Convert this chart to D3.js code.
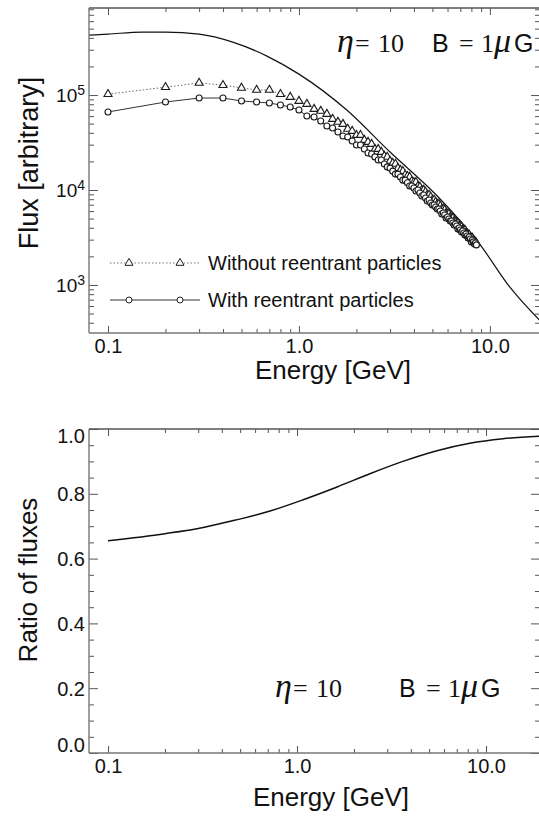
<!DOCTYPE html>
<html>
<head>
<meta charset="utf-8">
<script src="https://cdn.jsdelivr.net/npm/d3@7"></script>
<style>
  body { margin: 0; background: #fff; }
  text { font-family: "Liberation Sans", Arial, sans-serif; fill: #111; }
  .tick line { stroke: #555; }
</style>
</head>
<body>
<div id="chart"></div>
<script>
// size of the page
var width = 539,
    height = 816;

// energy grid of the simulated points [GeV]
var energies = [0.1,0.2,0.3,0.4,0.5,0.6,0.7,0.8,0.9,
  1.0,1.1,1.2,1.3,1.4,1.5,1.6,1.7,1.8,1.9,
  2.0,2.1,2.2,2.3,2.4,2.5,2.6,2.7,2.8,2.9,
  3.0,3.1,3.2,3.3,3.4,3.5,3.6,3.7,3.8,3.9,
  4.0,4.1,4.2,4.3,4.4,4.5,4.6,4.7,4.8,4.9,
  5.0,5.1,5.2,5.3,5.4,5.5,5.6,5.7,5.8,5.9,
  6.0,6.1,6.2,6.3,6.4,6.5,6.6,6.7,6.8,6.9,
  7.0,7.1,7.2,7.3,7.4,7.5,7.6,7.7,7.8,7.9,
  8.0,8.1,8.2,8.3,8.4,8.5];

// flux without reentrant particles (triangles)
var fluxWithout = [1.02e5,1.21e5,1.34e5,1.27e5,1.19e5,1.13e5,1.13e5,1.02e5,9.53e4,
  8.65e4,8.04e4,7.12e4,6.79e4,6.31e4,5.59e4,5.20e4,4.95e4,4.39e4,4.18e4,
  3.79e4,3.79e4,3.36e4,3.20e4,3.05e4,2.70e4,2.70e4,2.51e4,2.28e4,2.23e4,
  2.02e4,1.92e4,1.88e4,1.70e4,1.62e4,1.58e4,1.44e4,1.40e4,1.37e4,1.24e4,
  1.21e4,1.21e4,1.10e4,1.08e4,1.00e4,1.00e4,9.53e3,8.86e3,8.86e3,8.44e3,
  7.85e3,7.85e3,7.48e3,7.12e3,7.12e3,6.79e3,6.31e3,6.31e3,6.16e3,5.72e3,
  5.59e3,5.59e3,5.20e3,5.07e3,5.07e3,4.72e3,4.61e3,4.49e3,4.49e3,4.18e3,
  4.18e3,4.08e3,3.79e3,3.79e3,3.79e3,3.53e3,3.44e3,3.36e3,3.36e3,3.12e3,
  3.12e3,3.12e3,2.91e3,2.91e3,2.84e3,2.77e3];

// flux with reentrant particles (circles)
var fluxWith = [6.63e4,8.44e4,9.30e4,9.30e4,8.65e4,8.44e4,8.24e4,7.85e4,7.48e4,
  6.95e4,6.01e4,5.86e4,5.32e4,4.72e4,4.49e4,4.08e4,3.70e4,3.61e4,3.28e4,
  2.98e4,2.98e4,2.70e4,2.45e4,2.39e4,2.23e4,2.07e4,2.07e4,1.88e4,1.75e4,
  1.70e4,1.58e4,1.47e4,1.47e4,1.37e4,1.27e4,1.27e4,1.19e4,1.10e4,1.10e4,
  1.05e4,9.76e3,1.00e4,9.30e3,8.65e3,8.86e3,8.24e3,7.66e3,7.85e3,7.30e3,
  6.95e3,6.95e3,6.63e3,6.31e3,6.31e3,6.01e3,5.59e3,5.72e3,5.45e3,5.07e3,
  5.20e3,4.95e3,4.72e3,4.72e3,4.49e3,4.28e3,4.39e3,4.18e3,3.89e3,3.98e3,
  3.79e3,3.61e3,3.70e3,3.53e3,3.36e3,3.44e3,3.28e3,3.12e3,3.20e3,3.05e3,
  2.84e3,2.98e3,2.84e3,2.70e3,2.77e3,2.64e3];

// smooth source spectrum (solid line)
var sourceEnergy = [0.08, 0.1, 0.15, 0.2, 0.3, 0.45, 0.68, 1.0, 1.78, 3.0, 5.3, 8.9, 12.7, 18.3];
var sourceFlux   = [4.28e5, 4.38e5, 4.6e5, 4.6e5, 4.38e5, 3.61e5, 2.57e5, 1.66e5, 6.95e4, 2.51e4, 8.65e3, 2.64e3, 953, 420];

// ratio of fluxes (lower panel)
var ratioEnergy = [0.1, 0.2, 0.3, 0.45, 0.72, 1.07, 1.63, 2.43, 3.63, 5.5, 8.2, 12.3, 19.3];
var ratioValue  = [0.655, 0.677, 0.693, 0.716, 0.747, 0.781, 0.821, 0.862, 0.900, 0.933, 0.956, 0.970, 0.978];

// tick labels
var xMajor = [0.1, 1, 10],
    xMajorLabels = ["0.1", "1.0", "10.0"],
    xMinor = [0.2,0.3,0.4,0.5,0.6,0.7,0.8,0.9,2,3,4,5,6,7,8,9];
var fluxMajor = [1e3, 1e4, 1e5],
    fluxExponents = ["3", "4", "5"];
var ratioMajor = [0, 0.2, 0.4, 0.6, 0.8, 1.0],
    ratioLabels = ["0.0", "0.2", "0.4", "0.6", "0.8", "1.0"],
    ratioMinor = [0.05,0.1,0.15,0.25,0.3,0.35,0.45,0.5,0.55,0.65,0.7,0.75,0.85,0.9,0.95];

var legendLabels = ["Without reentrant particles", "With reentrant particles"];

/**** set up svg ****/
var svg = d3.select("#chart").append("svg")
    .attr("width", width)
    .attr("height", height);

var boxTop = {left: 89, right: 540, top: 8, bottom: 333};
var boxBot = {left: 89, right: 540, top: 429, bottom: 753};

var xTop = d3.scaleLog().domain([0.0795, 18.3]).range([boxTop.left, boxTop.right]);
var yTop = d3.scaleLog().domain([312, 8.25e5]).range([boxTop.bottom, boxTop.top]);
var xBot = d3.scaleLog().domain([0.0793, 19.3]).range([boxBot.left, boxBot.right]);
var yBot = d3.scaleLinear().domain([0, 1]).range([boxBot.bottom, boxBot.top]);

svg.append("clipPath").attr("id", "clipTop").append("rect")
    .attr("x", boxTop.left).attr("y", boxTop.top)
    .attr("width", boxTop.right - boxTop.left).attr("height", boxTop.bottom - boxTop.top);
svg.append("clipPath").attr("id", "clipBot").append("rect")
    .attr("x", boxBot.left).attr("y", boxBot.top)
    .attr("width", boxBot.right - boxBot.left).attr("height", boxBot.bottom - boxBot.top);

// draws inward ticks on all four sides of a panel
function drawFrame(box, x, y, yMajor, yMinor, yLabelFn) {
  var g = svg.append("g");

  // bottom, major with labels
  var bx = g.append("g").attr("transform", "translate(0," + box.bottom + ")")
      .call(d3.axisBottom(x).tickValues(xMajor).tickSize(-7).tickPadding(6)
        .tickFormat(function(d, i) { return xMajorLabels[i]; }));
  bx.select(".domain").remove();
  bx.selectAll("text").style("font-size", "20px").attr("fill", "#111");

  var bm = g.append("g").attr("transform", "translate(0," + box.bottom + ")")
      .call(d3.axisBottom(x).tickValues(xMinor).tickSize(-4).tickFormat(""));
  bm.select(".domain").remove();

  // top ticks
  [[xMajor, 7], [xMinor, 4]].forEach(function(p) {
    var t = g.append("g").attr("transform", "translate(0," + box.top + ")")
        .call(d3.axisTop(x).tickValues(p[0]).tickSize(-p[1]).tickFormat(""));
    t.select(".domain").remove();
  });

  // left, major with labels
  var ly = g.append("g").attr("transform", "translate(" + box.left + ",0)")
      .call(d3.axisLeft(y).tickValues(yMajor).tickSize(-9).tickPadding(4).tickFormat(""));
  ly.select(".domain").remove();
  yLabelFn(ly);

  var lm = g.append("g").attr("transform", "translate(" + box.left + ",0)")
      .call(d3.axisLeft(y).tickValues(yMinor).tickSize(-5).tickFormat(""));
  lm.select(".domain").remove();

  // right ticks
  [[yMajor, 9], [yMinor, 5]].forEach(function(p) {
    var t = g.append("g").attr("transform", "translate(" + box.right + ",0)")
        .call(d3.axisRight(y).tickValues(p[0]).tickSize(-p[1]).tickFormat(""));
    t.select(".domain").remove();
  });

  // frame
  g.append("line").attr("x1", box.left).attr("x2", box.left)
      .attr("y1", box.top).attr("y2", box.bottom).attr("stroke", "#777").attr("stroke-width", 1.4);
  g.append("line").attr("x1", box.left).attr("x2", box.right)
      .attr("y1", box.bottom).attr("y2", box.bottom).attr("stroke", "#777").attr("stroke-width", 1.4);
  g.append("line").attr("x1", box.left).attr("x2", box.right)
      .attr("y1", box.top).attr("y2", box.top).attr("stroke", "#555").attr("stroke-width", 1.6);
  g.selectAll(".tick line").attr("stroke", "#555").attr("stroke-width", 1);
}

/**** upper panel ****/
var fluxMinor = yTop.ticks().filter(function(d) {
  return fluxMajor.indexOf(d) < 0;
});

drawFrame(boxTop, xTop, yTop, fluxMajor, fluxMinor, function(ax) {
  ax.selectAll(".tick").each(function(d, i) {
    var t = d3.select(this).select("text")
        .attr("fill", "#111").style("font-size", "19px").attr("dy", "0.34em");
    t.text("");
    t.append("tspan").text("10");
    t.append("tspan").attr("dy", "-0.5em").style("font-size", "14px").text(fluxExponents[i]);
  });
});

var plotTop = svg.append("g").attr("clip-path", "url(#clipTop)");

var line = d3.line()
    .x(function(d) { return xTop(d[0]); })
    .y(function(d) { return yTop(d[1]); });

plotTop.append("path")
    .datum(sourceEnergy.map(function(e, i) { return [e, sourceFlux[i]]; }))
    .attr("fill", "none").attr("stroke", "#111").attr("stroke-width", 1.2)
    .attr("d", line.curve(d3.curveMonotoneX));
line.curve(d3.curveLinear);

var ptsWithout = energies.map(function(e, i) { return [e, fluxWithout[i]]; });
var ptsWith = energies.map(function(e, i) { return [e, fluxWith[i]]; });

var tri = d3.symbol().type(d3.symbolTriangle).size(28);

plotTop.append("path").datum(ptsWithout)
    .attr("fill", "none").attr("stroke", "#666").attr("stroke-width", 1)
    .attr("stroke-dasharray", "1.5,2").attr("d", line);
plotTop.selectAll(".tri").data(ptsWithout).enter().append("path")
    .attr("class", "tri")
    .attr("transform", function(d) { return "translate(" + xTop(d[0]) + "," + yTop(d[1]) + ")"; })
    .attr("d", tri).attr("fill", "#fff").attr("stroke", "#1a1a1a").attr("stroke-width", 1.1);

plotTop.append("path").datum(ptsWith)
    .attr("fill", "none").attr("stroke", "#333").attr("stroke-width", 1).attr("d", line);
plotTop.selectAll(".circ").data(ptsWith).enter().append("circle")
    .attr("class", "circ")
    .attr("cx", function(d) { return xTop(d[0]); })
    .attr("cy", function(d) { return yTop(d[1]); })
    .attr("r", 3).attr("fill", "#fff").attr("stroke", "#1a1a1a").attr("stroke-width", 1.1);

// legend
var legend = svg.append("g");
[263, 300].forEach(function(ly, i) {
  legend.append("line").attr("x1", 110).attr("x2", 200).attr("y1", ly).attr("y2", ly)
      .attr("stroke", i ? "#333" : "#777").attr("stroke-width", 1)
      .attr("stroke-dasharray", i ? null : "1.5,2");
  [129, 180].forEach(function(mx) {
    if (i === 0) {
      legend.append("path").attr("transform", "translate(" + mx + "," + ly + ")")
          .attr("d", tri).attr("fill", "#fff").attr("stroke", "#222").attr("stroke-width", 1);
    } else {
      legend.append("circle").attr("cx", mx).attr("cy", ly).attr("r", 3)
          .attr("fill", "#fff").attr("stroke", "#222").attr("stroke-width", 1);
    }
  });
  legend.append("text").attr("x", 208).attr("y", ly + 7)
      .style("font-size", "20px").text(legendLabels[i]);
});

// axis titles
svg.append("text").attr("transform", "translate(38,163) rotate(-90)")
    .attr("text-anchor", "middle").style("font-size", "27px").text("Flux [arbitrary]");
svg.append("text").attr("x", 333).attr("y", 379)
    .attr("text-anchor", "middle").style("font-size", "26px").text("Energy [GeV]");

// parameter annotation
function annotate(pos) {
  var t = svg.append("text").attr("y", pos.y);
  var parts = [
    {s: "\u03b7", x: pos.eta, f: "Liberation Serif", z: 34, it: true},
    {s: "=", x: pos.eq1, f: "Liberation Serif", z: 26},
    {s: "10", x: pos.ten, f: "Liberation Serif", z: 26},
    {s: "B", x: pos.b, f: "Liberation Sans", z: 25},
    {s: "=", x: pos.eq2, f: "Liberation Serif", z: 26},
    {s: "1", x: pos.one, f: "Liberation Serif", z: 26},
    {s: "\u03bc", x: pos.mu, f: "Liberation Serif", z: 34, it: true},
    {s: "G", x: pos.g, f: "Liberation Sans", z: 25}
  ];
  parts.forEach(function(p) {
    t.append("tspan").attr("x", p.x).style("font-family", p.f)
        .style("font-size", p.z + "px").style("font-style", p.it ? "italic" : "normal")
        .text(p.s);
  });
}
annotate({y: 52, eta: 337, eq1: 355, ten: 378, b: 432, eq2: 459, one: 481, mu: 494, g: 514});

/**** lower panel ****/
drawFrame(boxBot, xBot, yBot, ratioMajor, ratioMinor, function(ax) {
  ax.selectAll(".tick").each(function(d, i) {
    var shift = d === 1 ? 7 : (d === 0 ? -8 : 0);
    d3.select(this).select("text")
        .attr("fill", "#111").style("font-size", "20px")
        .attr("dy", "0.34em").attr("y", shift).text(ratioLabels[i]);
  });
});

var plotBot = svg.append("g").attr("clip-path", "url(#clipBot)");
plotBot.append("path")
    .datum(ratioEnergy.map(function(e, i) { return [e, ratioValue[i]]; }))
    .attr("fill", "none").attr("stroke", "#111").attr("stroke-width", 1.5)
    .attr("d", d3.line().curve(d3.curveMonotoneX)
      .x(function(d) { return xBot(d[0]); })
      .y(function(d) { return yBot(d[1]); }));

svg.append("text").attr("transform", "translate(37,580) rotate(-90)")
    .attr("text-anchor", "middle").style("font-size", "26px").text("Ratio of fluxes");
svg.append("text").attr("x", 331).attr("y", 806)
    .attr("text-anchor", "middle").style("font-size", "26px").text("Energy [GeV]");

annotate({y: 697, eta: 275, eq1: 293, ten: 316, b: 399, eq2: 426, one: 448, mu: 461, g: 481});
</script>
</body>
</html>
